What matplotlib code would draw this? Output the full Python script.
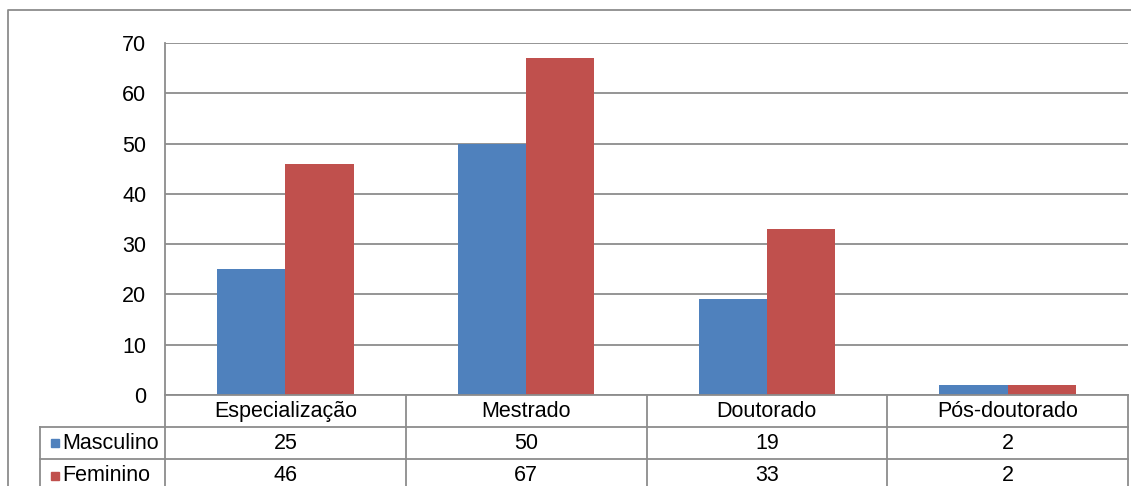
import matplotlib.pyplot as plt
import numpy as np
from matplotlib.lines import Line2D
from matplotlib.patches import Rectangle
from matplotlib.transforms import blended_transform_factory

# data
categories = ["Especialização", "Mestrado", "Doutorado", "Pós-doutorado"]
series_names = ["Masculino", "Feminino"]
masculino = [25, 50, 19, 2]
feminino = [46, 67, 33, 2]
colors = ["#4F81BD", "#C0504D"]
grid_col = "#8C8C8C"

plt.rcParams['font.family'] = ['Liberation Sans', 'DejaVu Sans']
fs = 15.5

W, H = 1131, 486
fig = plt.figure(figsize=(W / 100, H / 100), dpi=100)

def fx(px):
    return px / W

def fy(py):
    return 1 - py / H

# plot area
x0, x1, ytop, ybot = 165, 1128, 43, 395
ax = fig.add_axes([fx(x0), fy(ybot), fx(x1 - x0), (ybot - ytop) / H])

x = np.arange(len(categories))
bw = 0.284
ax.bar(x - bw / 2, masculino, bw, color=colors[0], zorder=3)
ax.bar(x + bw / 2, feminino, bw, color=colors[1], zorder=3)

ax.set_xlim(-0.5, len(categories) - 0.5)
ax.set_ylim(0, 70)
ax.set_yticks(range(0, 71, 10))
ax.yaxis.grid(True, color=grid_col, lw=1.3, zorder=0)
ax.set_xticks([])
ax.tick_params(axis='y', length=0, pad=13.5, labelsize=fs)
for s in ax.spines.values():
    s.set_visible(False)

# data table below the axis
tr = blended_transform_factory(ax.transData, fig.transFigure)
lw = 1.3
row_y = [395, 427, 459, 492]

fig.add_artist(Line2D([fx(x0), fx(x1)], [fy(395), fy(395)], color=grid_col, lw=lw))
for yy in row_y[1:3]:
    fig.add_artist(Line2D([fx(40), fx(x1)], [fy(yy), fy(yy)], color=grid_col, lw=lw))
fig.add_artist(Line2D([fx(x0), fx(x0)], [fy(ytop), 0], color=grid_col, lw=lw))
fig.add_artist(Line2D([fx(40), fx(40)], [fy(427), 0], color=grid_col, lw=lw))
for b in np.arange(0.5, len(categories) + 0.5, 1.0):
    ax.add_line(Line2D([b, b], [fy(395), 0], transform=tr, color=grid_col,
                       lw=lw, clip_on=False))

# outer chart frame
fig.add_artist(Line2D([fx(8), fx(8), 1], [0, fy(10), fy(10)], color=grid_col, lw=lw))

def cy(i):
    return fy((row_y[i] + row_y[i + 1]) / 2)

for i, c in enumerate(categories):
    ax.text(i, cy(0), c, transform=tr, ha='center', va='center', fontsize=fs)
for r, vals in enumerate([masculino, feminino]):
    for i, v in enumerate(vals):
        ax.text(i, cy(r + 1), str(v), transform=tr, ha='center', va='center',
                fontsize=fs)
    fig.add_artist(Rectangle((fx(51), cy(r + 1) - 4 / H), 8 / W, 8 / H,
                             transform=fig.transFigure, color=colors[r]))
    fig.text(fx(62), cy(r + 1), series_names[r], ha='left', va='center',
             fontsize=fs)

fig.savefig("out.png", dpi=100)
